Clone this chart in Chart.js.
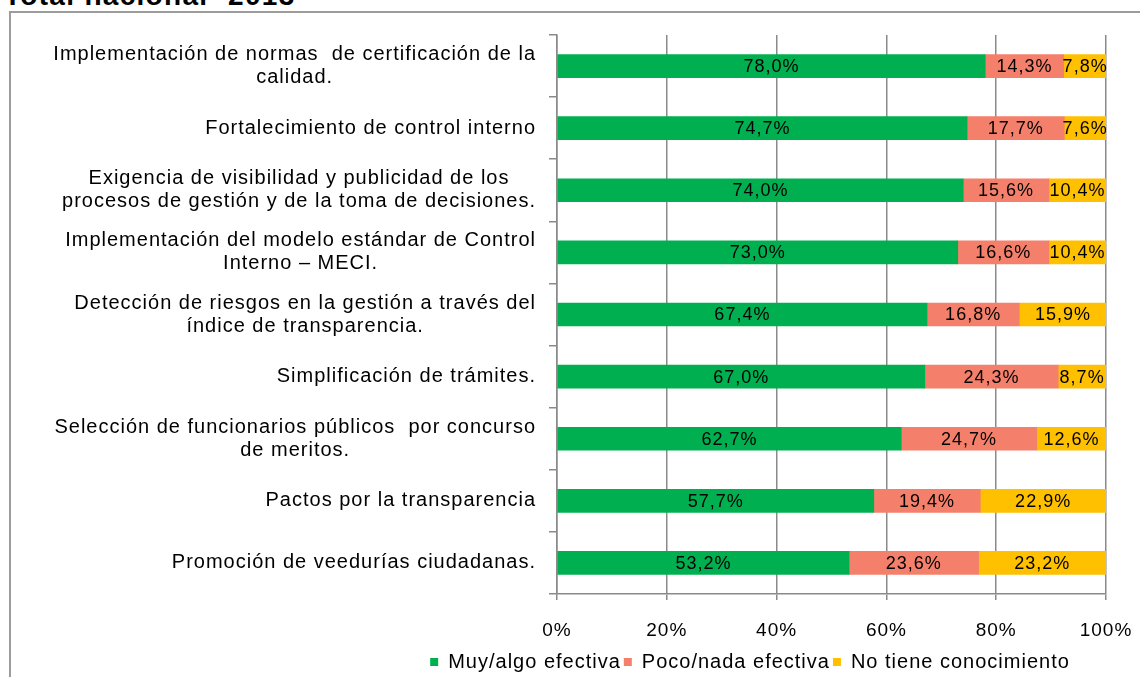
<!DOCTYPE html>
<html>
<head>
<meta charset="utf-8">
<script src="https://cdn.jsdelivr.net/npm/chart.js@4/dist/chart.umd.min.js"></script>
<style>
    html, body { margin: 0; padding: 0; background: #fff; overflow: hidden; }
    #wrap { position: relative; width: 1140px; height: 677px; }
    #titulo {
        position: absolute; left: 4px; top: -18px;
        font: bold 28px "Liberation Sans", Arial, sans-serif; line-height: 28px;
        letter-spacing: 1.3px; color: #000; white-space: nowrap;
    }
    #marco {
        position: absolute; left: 9px; top: 11px; right: -10px; bottom: -10px;
        border-top: 2px solid #9c9c9c; border-left: 2px solid #9c9c9c;
    }
    #grafico { position: absolute; left: 0; top: 0; }
</style>
</head>
<body>
<div id="wrap">
    <div id="titulo">Total nacional- 2013</div>
    <div id="marco"></div>
    <canvas id="grafico" width="1140" height="677"></canvas>
</div>
<script>
var categorias = [
    ["Implementación de normas  de certificación de la", "calidad."],
    ["Fortalecimiento de control interno"],
    ["Exigencia de visibilidad y publicidad de los", "procesos de gestión y de la toma de decisiones."],
    ["Implementación del modelo estándar de Control", "Interno – MECI."],
    ["Detección de riesgos en la gestión a través del", "índice de transparencia."],
    ["Simplificación de trámites."],
    ["Selección de funcionarios públicos  por concurso", "de meritos."],
    ["Pactos por la transparencia"],
    ["Promoción de veedurías ciudadanas."]
];
var muyAlgo = [78.0, 74.7, 74.0, 73.0, 67.4, 67.0, 62.7, 57.7, 53.2];
var pocoNada = [14.3, 17.7, 15.6, 16.6, 16.8, 24.3, 24.7, 19.4, 23.6];
var noConoce = [7.8, 7.6, 10.4, 10.4, 15.9, 8.7, 12.6, 22.9, 23.2];
var series = ["Muy/algo efectiva", "Poco/nada efectiva", "No tiene conocimiento"];
var colores = ['#00B050', '#F4806B', '#FFC000'];
var ejeX = [0, 20, 40, 60, 80, 100];

var FUENTE = '"Liberation Sans", Arial, sans-serif';
var GRIS = '#8a8a8a';

function pct(v) {
    return v.toFixed(1).replace('.', ',') + '%';
}

// espaciado de letras parecido al de Excel; se reaplica porque el canvas lo pierde al redimensionar
var espaciado = {
    id: 'espaciado',
    beforeUpdate: function (chart) { chart.ctx.letterSpacing = '1px'; },
    beforeDraw: function (chart) { chart.ctx.letterSpacing = '1px'; }
};

// baja un poco la leyenda
var bajarLeyenda = {
    id: 'bajarLeyenda',
    afterLayout: function (chart) {
        if (chart.legend) {
            chart.legend.top += 5;
            chart.legend.bottom += 5;
        }
    }
};

// etiquetas de las categorías: bloque alineado a la derecha, líneas centradas
var etiquetasY = {
    id: 'etiquetasY',
    afterDraw: function (chart) {
        var ctx = chart.ctx, y = chart.scales.y;
        var derecha = y.right - 21, alto = 23;
        ctx.save();
        ctx.font = '20px ' + FUENTE;
        ctx.fillStyle = '#000';
        ctx.textAlign = 'center';
        ctx.textBaseline = 'middle';
        categorias.forEach(function (lineas, i) {
            var ancho = 0;
            lineas.forEach(function (l) { ancho = Math.max(ancho, ctx.measureText(l).width); });
            var cx = derecha - ancho / 2;
            var cy = y.getPixelForValue(i);
            lineas.forEach(function (l, j) {
                ctx.fillText(l, cx, cy + (j - (lineas.length - 1) / 2) * alto);
            });
        });
        ctx.restore();
    }
};

// porcentaje en el centro de cada segmento
var valores = {
    id: 'valores',
    afterDatasetsDraw: function (chart) {
        var ctx = chart.ctx;
        ctx.save();
        ctx.font = '18px ' + FUENTE;
        ctx.fillStyle = '#000';
        ctx.textAlign = 'center';
        ctx.textBaseline = 'middle';
        chart.data.datasets.forEach(function (ds, d) {
            chart.getDatasetMeta(d).data.forEach(function (el, i) {
                ctx.fillText(pct(ds.data[i]), (el.x + el.base) / 2, el.y + 1);
            });
        });
        ctx.restore();
    }
};

var ctx = document.getElementById('grafico');
var grafico = new Chart(ctx, {
    type: 'bar',
    data: {
        labels: categorias,
        datasets: [
            { label: series[0], data: muyAlgo, backgroundColor: colores[0] },
            { label: series[1], data: pocoNada, backgroundColor: colores[1] },
            { label: series[2], data: noConoce, backgroundColor: colores[2] }
        ]
    },
    options: {
        indexAxis: 'y',
        responsive: false,
        animation: false,
        barThickness: 23,
        // el relleno izquierdo desplaza la leyenda; el eje y completa hasta x = 557
        layout: { padding: { top: 35, right: 34, left: 394, bottom: 0 } },
        scales: {
            x: {
                stacked: true,
                min: 0,
                max: 100,
                afterBuildTicks: function (s) { s.ticks = ejeX.map(function (v) { return { value: v }; }); },
                afterFit: function (s) {
                    s.height = 50;
                    s.paddingLeft = 0;
                    s.paddingRight = 0;
                },
                ticks: {
                    color: '#000',
                    font: { size: 19, family: FUENTE },
                    padding: 19,
                    maxRotation: 0,
                    callback: function (v) { return v + '%'; }
                },
                grid: { color: GRIS, lineWidth: 1.5, tickLength: 6 },
                border: { color: GRIS, width: 1.5 }
            },
            y: {
                stacked: true,
                afterFit: function (s) { s.width = 557 - 394; },
                ticks: { display: false },
                grid: { drawOnChartArea: false, offset: true, tickLength: 8, color: GRIS, lineWidth: 1.5 },
                border: { color: GRIS, width: 1.5 }
            }
        },
        plugins: {
            legend: {
                position: 'bottom',
                labels: {
                    boxWidth: 8,
                    boxHeight: 8,
                    padding: 3,
                    color: '#000',
                    font: { size: 20, family: FUENTE }
                }
            },
            tooltip: { enabled: false }
        }
    },
    plugins: [espaciado, bajarLeyenda, etiquetasY, valores]
});
</script>
</body>
</html>
